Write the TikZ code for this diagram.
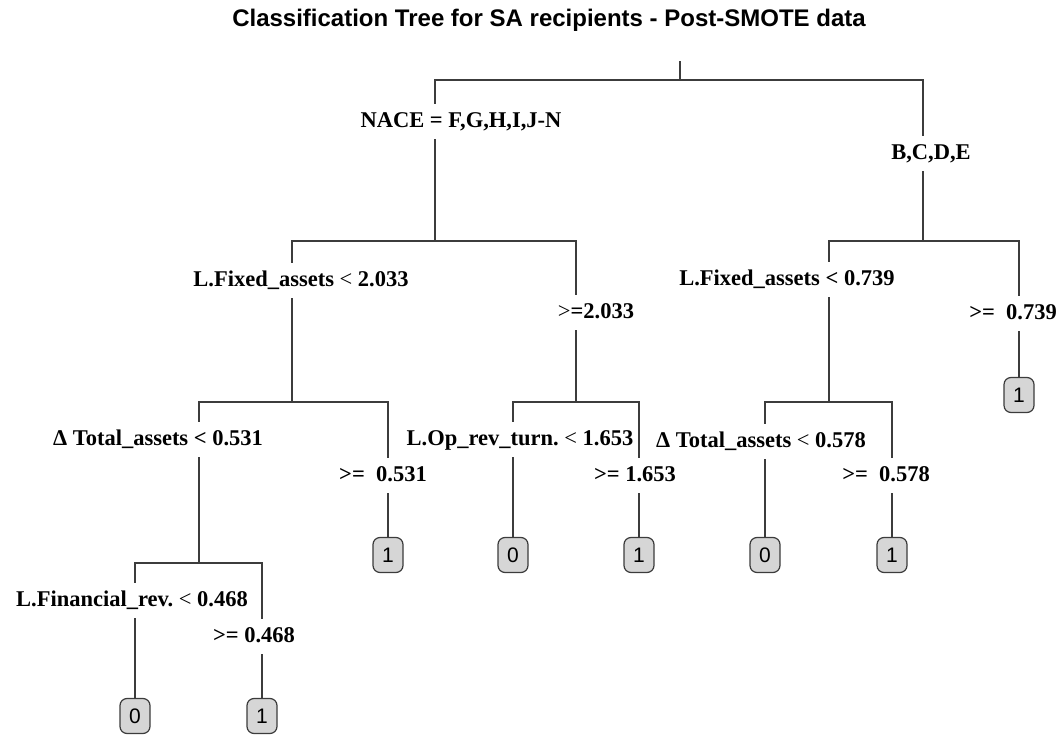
\documentclass[tikz,border=0pt]{standalone}
\usepackage{fontspec}
\setmainfont{Liberation Serif}
\setsansfont{Liberation Sans}
\usepackage{tikz}
\frenchspacing
\newcommand{\ltm}{{\mdseries <}}
\newcommand{\gtm}{{\mdseries >}}

\begin{document}
\begin{tikzpicture}[x=1pt,y=1pt,
  branch/.style={draw=drawColor,line width=1.6pt,line cap=rect},
  split/.style={anchor=base,inner xsep=0pt,inner ysep=8pt,text height=17pt,text depth=4pt,
    font=\fontsize{22.5}{26}\selectfont\bfseries},
  leaf/.style={draw=drawColor,line width=1.2pt,fill=leafColor,rounded corners=7pt,
    minimum width=30pt,minimum height=35pt,inner sep=0pt,
    font=\sffamily\fontsize{21}{24}\selectfont}]
\definecolor{drawColor}{RGB}{60,60,60}
\definecolor{leafColor}{RGB}{214,214,214}
\path[use as bounding box] (0,0) rectangle (1060,736);

\node[anchor=base,inner sep=0pt,font=\sffamily\bfseries\fontsize{24}{28}\selectfont] (title) at (549,709)
  {Classification Tree for SA recipients - Post-SMOTE data};

% split labels
\node[split] (nace) at (461,608) {NACE = F,G,H,I,J-N};
\node[split] (bcde) at (931,576) {B,C,D,E};
\node[split] (fix1) at (301,449) {L.Fixed\_assets \ltm\ 2.033};
\node[split] (fge1) at (596,417) {\gtm=2.033};
\node[split] (fix2) at (787,450) {L.Fixed\_assets < 0.739};
\node[split] (fge2) at (1013,416) {>= \ 0.739};
\node[split] (tot1) at (158,290) {Δ Total\_assets < 0.531};
\node[split] (tge1) at (383,254) {>= \ 0.531};
\node[split] (opr) at (520,290) {L.Op\_rev\_turn. \ltm\ 1.653};
\node[split] (oge) at (635,254) {>= 1.653};
\node[split] (tot2) at (761,288) {Δ Total\_assets \ltm\ 0.578};
\node[split] (tge2) at (886,254) {>= \ 0.578};
\node[split] (fin) at (132,129) {L.Financial\_rev. \ltm\ 0.468};
\node[split] (nge) at (254,93) {>= 0.468};

% leaves
\node[leaf] (lf1) at (1019,341) {1};
\node[leaf] (lf2) at (388,181) {1};
\node[leaf] (lf3) at (513,181) {0};
\node[leaf] (lf4) at (639,181) {1};
\node[leaf] (lf5) at (765,181) {0};
\node[leaf] (lf6) at (892,181) {1};
\node[leaf] (lf7) at (135,20) {0};
\node[leaf] (lf8) at (262,20) {1};

% branch points
\coordinate (top) at (680,674);
\coordinate (k1) at (435,656);
\coordinate (k2) at (923,656);
\coordinate (k11) at (292,495);
\coordinate (k12) at (576,495);
\coordinate (k21) at (829,495);
\coordinate (k22) at (1019,495);
\coordinate (k111) at (199,334);
\coordinate (k112) at (388,334);
\coordinate (k121) at (513,334);
\coordinate (k122) at (639,334);
\coordinate (k211) at (765,334);
\coordinate (k212) at (892,334);
\coordinate (k1111) at (135,173);
\coordinate (k1112) at (262,173);

\path[branch] (top) -- (top |- k1);
\path[branch] (k1) -- (k2);
\path[branch] (k1) -- (k1 |- nace.north);
\path[branch] (k1 |- nace.south) -- (k1 |- k11);
\path[branch] (k2) -- (k2 |- bcde.north);
\path[branch] (k2 |- bcde.south) -- (k2 |- k21);

\path[branch] (k11) -- (k12);
\path[branch] (k21) -- (k22);
\path[branch] (k11) -- (k11 |- fix1.north);
\path[branch] (k11 |- fix1.south) -- (k11 |- k111);
\path[branch] (k12) -- (k12 |- fge1.north);
\path[branch] (k12 |- fge1.south) -- (k12 |- k121);
\path[branch] (k21) -- (k21 |- fix2.north);
\path[branch] (k21 |- fix2.south) -- (k21 |- k211);
\path[branch] (k22) -- (k22 |- fge2.north);
\path[branch] (k22 |- fge2.south) -- (lf1.north);

\path[branch] (k111) -- (k112);
\path[branch] (k121) -- (k122);
\path[branch] (k211) -- (k212);
\path[branch] (k111) -- (k111 |- tot1.north);
\path[branch] (k111 |- tot1.south) -- (k111 |- k1111);
\path[branch] (k112) -- (k112 |- tge1.north);
\path[branch] (k112 |- tge1.south) -- (lf2.north);
\path[branch] (k121) -- (k121 |- opr.north);
\path[branch] (k121 |- opr.south) -- (lf3.north);
\path[branch] (k122) -- (k122 |- oge.north);
\path[branch] (k122 |- oge.south) -- (lf4.north);
\path[branch] (k211) -- (k211 |- tot2.north);
\path[branch] (k211 |- tot2.south) -- (lf5.north);
\path[branch] (k212) -- (k212 |- tge2.north);
\path[branch] (k212 |- tge2.south) -- (lf6.north);

\path[branch] (k1111) -- (k1112);
\path[branch] (k1111) -- (k1111 |- fin.north);
\path[branch] (k1111 |- fin.south) -- (lf7.north);
\path[branch] (k1112) -- (k1112 |- nge.north);
\path[branch] (k1112 |- nge.south) -- (lf8.north);
\end{tikzpicture}
\end{document}
